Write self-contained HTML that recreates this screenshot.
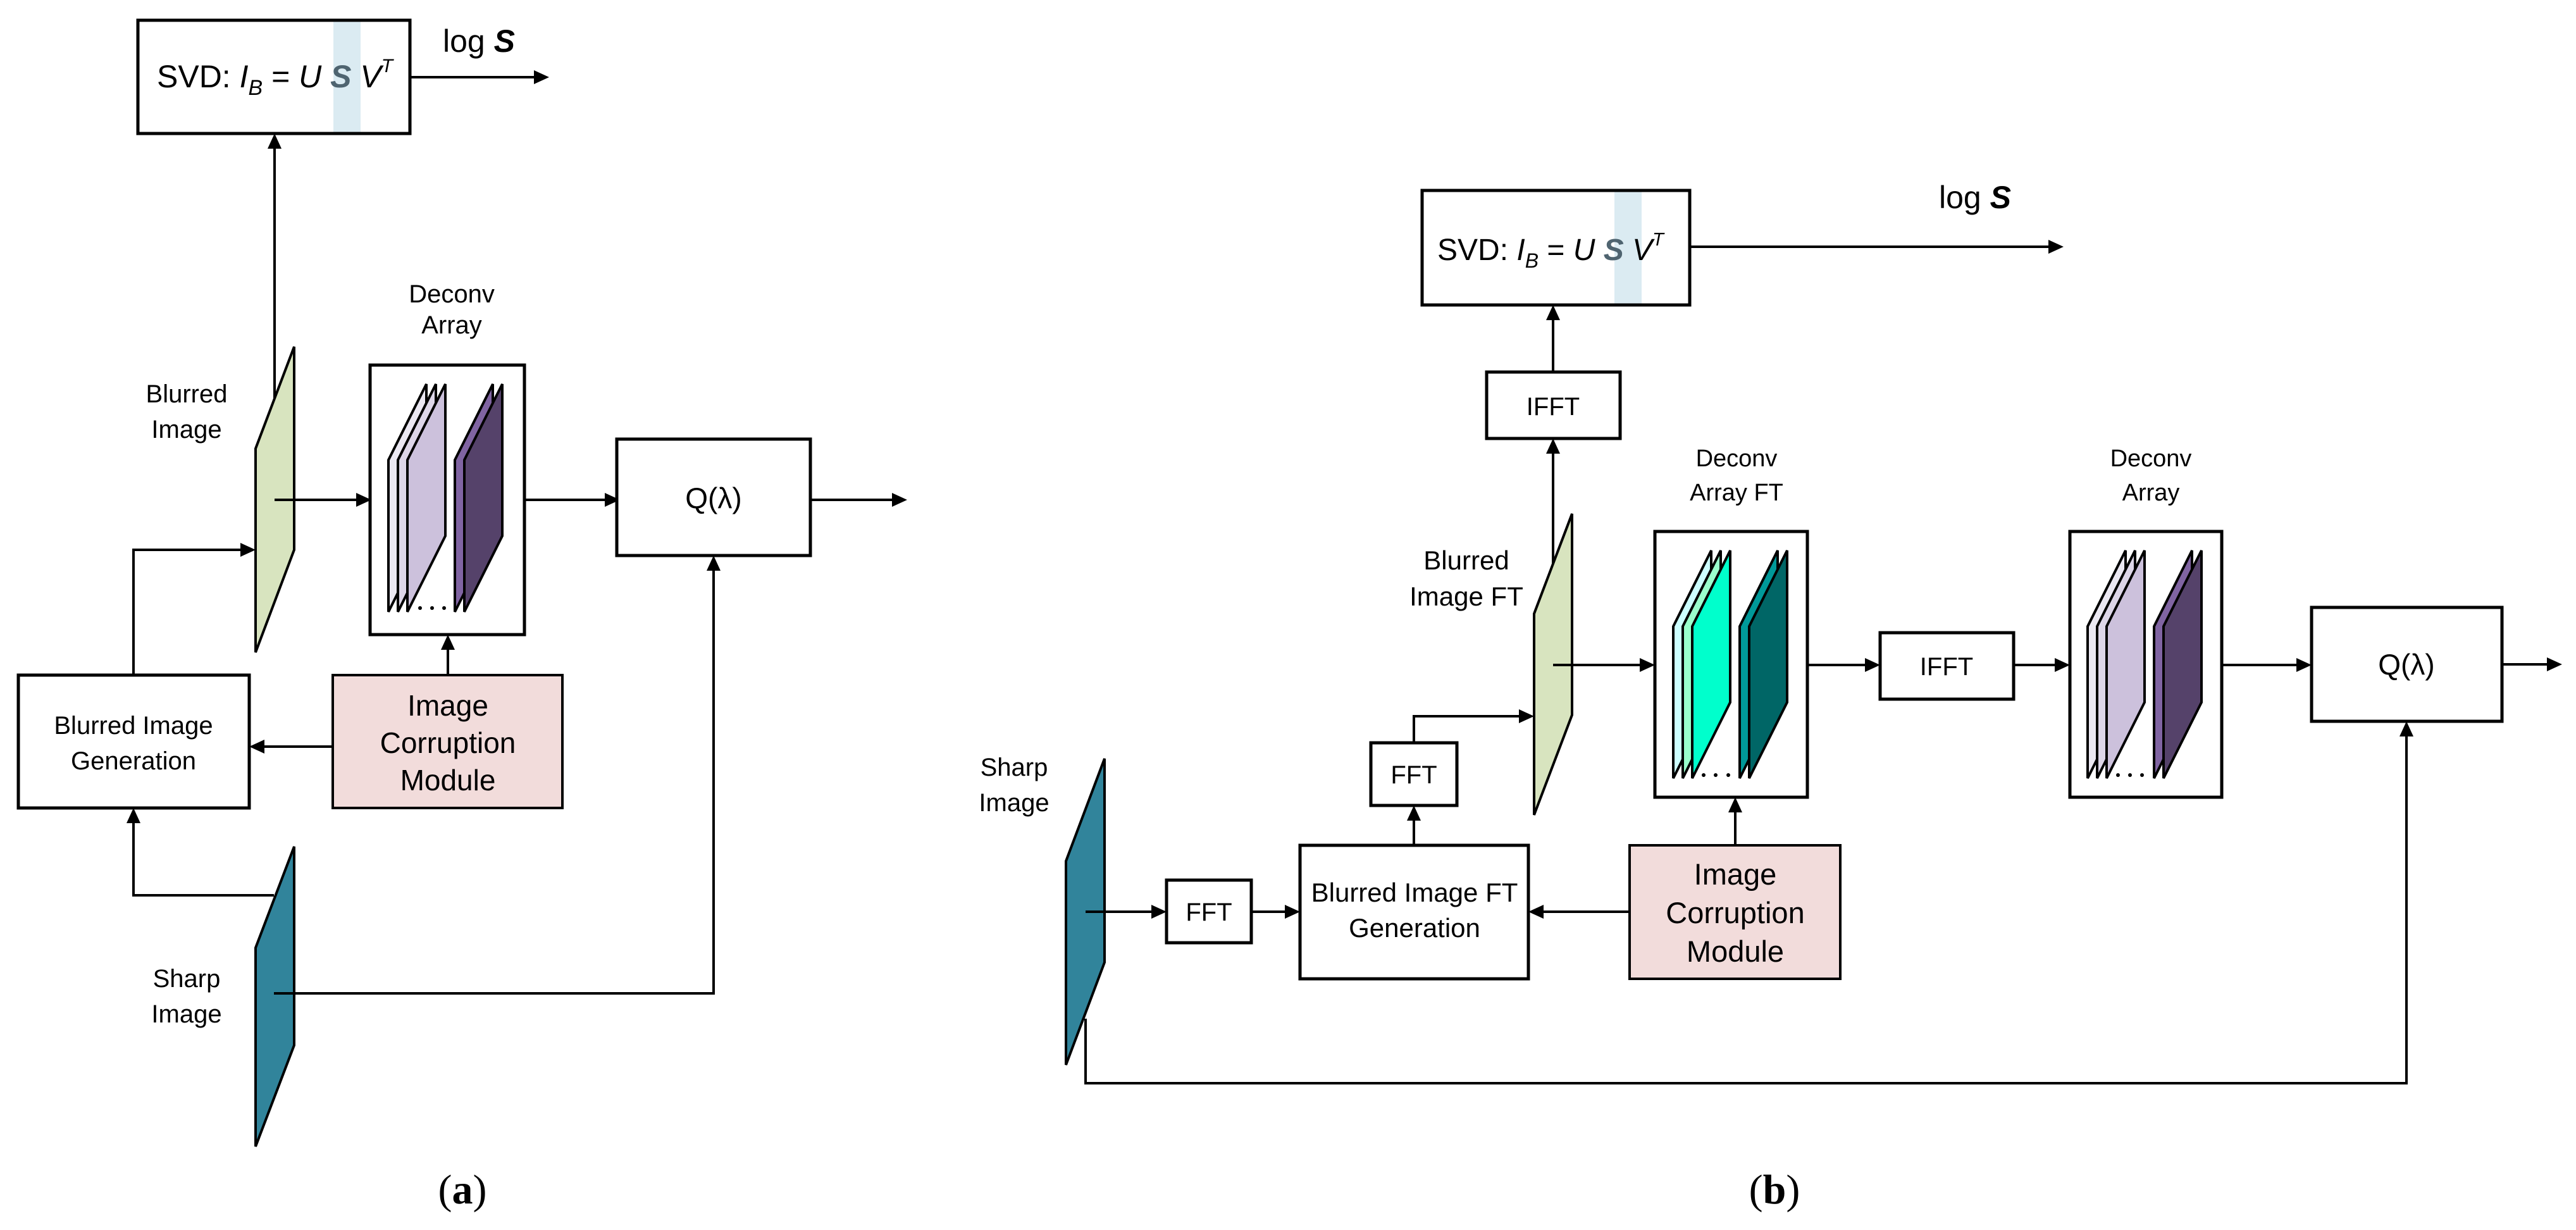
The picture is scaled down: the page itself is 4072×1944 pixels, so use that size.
<!DOCTYPE html>
<html><head><meta charset="utf-8"><style>
html,body{margin:0;padding:0;background:#fff;}
svg{display:block;}
text{font-family:"Liberation Sans",sans-serif;fill:#000;}
</style></head><body>
<svg width="4072" height="1944" viewBox="0 0 4072 1944" xmlns="http://www.w3.org/2000/svg">
<style>
.ln{stroke:#000;stroke-width:4;fill:none;}
.bx{stroke:#000;stroke-width:5;fill:#fff;}
.ah{fill:#000;}
</style>

<!-- ================= PANEL A ================= -->
<rect x="218" y="32" width="430" height="179" class="bx"/>
<rect x="527" y="30" width="43" height="183" fill="#dbebf2"/>
<rect x="218" y="32" width="430" height="179" fill="none" stroke="#000" stroke-width="5"/>
<text x="248" y="138" font-size="50">SVD: <tspan font-style="italic">I</tspan><tspan font-style="italic" font-size="34" dy="12">B</tspan><tspan dy="-12"> = </tspan><tspan font-style="italic">U </tspan><tspan font-style="italic" font-weight="bold" fill="#4f6470">S</tspan><tspan font-style="italic"> V</tspan><tspan font-style="italic" font-size="30" dy="-24">T</tspan></text>
<text x="700" y="82" font-size="50">log <tspan font-weight="bold" font-style="italic">S</tspan></text>
<line x1="648" y1="122" x2="845" y2="122" class="ln"/>
<polygon points="868,122 844,111 844,133" class="ah"/>

<line x1="434" y1="640" x2="434" y2="234" class="ln"/>
<polygon points="434,211 423,235 445,235" class="ah"/>

<polygon points="404,709 465,548 465,869 404,1031" fill="#d8e4bf" stroke="#000" stroke-width="4"/>
<text x="295" y="636" font-size="40" text-anchor="middle">Blurred</text>
<text x="295" y="692" font-size="40" text-anchor="middle">Image</text>

<line x1="434" y1="790" x2="565" y2="790" class="ln"/>
<polygon points="587,790 563,779 563,801" class="ah"/>

<text x="714" y="478" font-size="40" text-anchor="middle">Deconv</text>
<text x="714" y="527" font-size="40" text-anchor="middle">Array</text>
<rect x="585" y="577" width="244" height="426" class="bx"/>
<g stroke="#000" stroke-width="4">
<polygon points="614,727 674,607 674,847 614,967" fill="#ebe8f2"/>
<polygon points="629,727 689,607 689,847 629,967" fill="#ddd6e8"/>
<polygon points="644,727 704,607 704,847 644,967" fill="#ccc1dc"/>
<polygon points="719,727 779,607 779,847 719,967" fill="#8064a2"/>
<polygon points="734,727 794,607 794,847 734,967" fill="#55426a"/>
</g>
<circle cx="664" cy="961" r="3"/><circle cx="683" cy="961" r="3"/><circle cx="702" cy="961" r="3"/>

<line x1="829" y1="790" x2="958" y2="790" class="ln"/>
<polygon points="980,790 956,779 956,801" class="ah"/>
<rect x="975" y="694" width="306" height="184" class="bx"/>
<text x="1128" y="803" font-size="46" text-anchor="middle">Q(λ)</text>
<line x1="1281" y1="790" x2="1411" y2="790" class="ln"/>
<polygon points="1434,790 1410,779 1410,801" class="ah"/>

<rect x="29" y="1067" width="365" height="210" class="bx"/>
<text x="211" y="1160" font-size="40" text-anchor="middle">Blurred Image</text>
<text x="211" y="1216" font-size="40" text-anchor="middle">Generation</text>
<polyline points="211,1067 211,869 382,869" class="ln"/>
<polygon points="404,869 380,858 380,880" class="ah"/>

<rect x="526" y="1067" width="363" height="210" fill="#f2dcdb" stroke="#000" stroke-width="4"/>
<text x="708" y="1131" font-size="46" text-anchor="middle">Image</text>
<text x="708" y="1190" font-size="46" text-anchor="middle">Corruption</text>
<text x="708" y="1249" font-size="46" text-anchor="middle">Module</text>
<line x1="708" y1="1067" x2="708" y2="1025" class="ln"/>
<polygon points="708,1003 697,1027 719,1027" class="ah"/>
<line x1="526" y1="1180" x2="416" y2="1180" class="ln"/>
<polygon points="394,1180 418,1169 418,1191" class="ah"/>

<polyline points="433,1415 211,1415 211,1299" class="ln"/>
<polygon points="211,1277 200,1301 222,1301" class="ah"/>
<polygon points="404,1498 465,1338 465,1652 404,1812" fill="#31849b" stroke="#000" stroke-width="4"/>
<text x="295" y="1560" font-size="40" text-anchor="middle">Sharp</text>
<text x="295" y="1616" font-size="40" text-anchor="middle">Image</text>
<polyline points="433,1570 1128,1570 1128,900" class="ln"/>
<polygon points="1128,878 1117,902 1139,902" class="ah"/>

<text x="731" y="1902" font-size="66" text-anchor="middle" style="font-family:'Liberation Serif',serif">(<tspan font-weight="bold">a</tspan>)</text>

<!-- ================= PANEL B ================= -->
<rect x="2248" y="301" width="423" height="181" class="bx"/>
<rect x="2552" y="299" width="43" height="185" fill="#dbebf2"/>
<rect x="2248" y="301" width="423" height="181" fill="none" stroke="#000" stroke-width="5"/>
<text x="2272" y="411" font-size="48">SVD: <tspan font-style="italic">I</tspan><tspan font-style="italic" font-size="32" dy="12">B</tspan><tspan dy="-12"> = </tspan><tspan font-style="italic">U </tspan><tspan font-style="italic" font-weight="bold" fill="#4f6470">S</tspan><tspan font-style="italic"> V</tspan><tspan font-style="italic" font-size="29" dy="-23">T</tspan></text>
<text x="3065" y="329" font-size="50">log <tspan font-weight="bold" font-style="italic">S</tspan></text>
<line x1="2671" y1="390" x2="3240" y2="390" class="ln"/>
<polygon points="3262,390 3238,379 3238,401" class="ah"/>

<rect x="2350" y="588" width="211" height="105" class="bx"/>
<text x="2455" y="656" font-size="40" text-anchor="middle">IFFT</text>
<line x1="2455" y1="588" x2="2455" y2="504" class="ln"/>
<polygon points="2455,482 2444,506 2466,506" class="ah"/>
<line x1="2455" y1="900" x2="2455" y2="715" class="ln"/>
<polygon points="2455,693 2444,717 2466,717" class="ah"/>

<polygon points="2425,970 2485,812 2485,1130 2425,1288" fill="#d8e4bf" stroke="#000" stroke-width="4"/>
<text x="2318" y="900" font-size="42" text-anchor="middle">Blurred</text>
<text x="2318" y="957" font-size="42" text-anchor="middle">Image FT</text>
<line x1="2455" y1="1051" x2="2594" y2="1051" class="ln"/>
<polygon points="2616,1051 2592,1040 2592,1062" class="ah"/>

<text x="2745" y="737" font-size="38" text-anchor="middle">Deconv</text>
<text x="2745" y="791" font-size="38" text-anchor="middle">Array FT</text>
<rect x="2616" y="840" width="241" height="420" class="bx"/>
<g stroke="#000" stroke-width="4">
<polygon points="2645,990 2705,870 2705,1110 2645,1230" fill="#ccffff"/>
<polygon points="2660,990 2720,870 2720,1110 2660,1230" fill="#99ffcc"/>
<polygon points="2675,990 2735,870 2735,1110 2675,1230" fill="#00ffcc"/>
<polygon points="2750,990 2810,870 2810,1110 2750,1230" fill="#009999"/>
<polygon points="2765,990 2825,870 2825,1110 2765,1230" fill="#006666"/>
</g>
<circle cx="2693" cy="1225" r="3"/><circle cx="2712" cy="1225" r="3"/><circle cx="2732" cy="1225" r="3"/>

<line x1="2857" y1="1051" x2="2950" y2="1051" class="ln"/>
<polygon points="2972,1051 2948,1040 2948,1062" class="ah"/>
<rect x="2972" y="1000" width="211" height="105" class="bx"/>
<text x="3077" y="1067" font-size="40" text-anchor="middle">IFFT</text>
<line x1="3183" y1="1051" x2="3250" y2="1051" class="ln"/>
<polygon points="3272,1051 3248,1040 3248,1062" class="ah"/>

<text x="3400" y="737" font-size="38" text-anchor="middle">Deconv</text>
<text x="3400" y="791" font-size="38" text-anchor="middle">Array</text>
<rect x="3272" y="840" width="240" height="420" class="bx"/>
<g stroke="#000" stroke-width="4">
<polygon points="3300,990 3360,870 3360,1110 3300,1230" fill="#ebe8f2"/>
<polygon points="3315,990 3375,870 3375,1110 3315,1230" fill="#ddd6e8"/>
<polygon points="3330,990 3390,870 3390,1110 3330,1230" fill="#ccc1dc"/>
<polygon points="3405,990 3465,870 3465,1110 3405,1230" fill="#8064a2"/>
<polygon points="3420,990 3480,870 3480,1110 3420,1230" fill="#55426a"/>
</g>
<circle cx="3348" cy="1225" r="3"/><circle cx="3367" cy="1225" r="3"/><circle cx="3386" cy="1225" r="3"/>

<line x1="3512" y1="1051" x2="3632" y2="1051" class="ln"/>
<polygon points="3654,1051 3630,1040 3630,1062" class="ah"/>
<rect x="3654" y="960" width="301" height="180" class="bx"/>
<text x="3804" y="1066" font-size="46" text-anchor="middle">Q(λ)</text>
<line x1="3955" y1="1050" x2="4028" y2="1050" class="ln"/>
<polygon points="4050,1050 4026,1039 4026,1061" class="ah"/>

<rect x="2167" y="1174" width="136" height="99" class="bx"/>
<text x="2235" y="1238" font-size="40" text-anchor="middle">FFT</text>
<polyline points="2235,1174 2235,1132 2403,1132" class="ln"/>
<polygon points="2425,1132 2401,1121 2401,1143" class="ah"/>
<line x1="2235" y1="1336" x2="2235" y2="1295" class="ln"/>
<polygon points="2235,1273 2224,1297 2246,1297" class="ah"/>

<rect x="2055" y="1336" width="361" height="211" class="bx"/>
<text x="2236" y="1425" font-size="42" text-anchor="middle">Blurred Image FT</text>
<text x="2236" y="1481" font-size="42" text-anchor="middle">Generation</text>

<rect x="2576" y="1336" width="333" height="211" fill="#f2dcdb" stroke="#000" stroke-width="4"/>
<text x="2743" y="1398" font-size="47" text-anchor="middle">Image</text>
<text x="2743" y="1459" font-size="47" text-anchor="middle">Corruption</text>
<text x="2743" y="1520" font-size="47" text-anchor="middle">Module</text>
<line x1="2743" y1="1336" x2="2743" y2="1282" class="ln"/>
<polygon points="2743,1260 2732,1284 2754,1284" class="ah"/>
<line x1="2576" y1="1441" x2="2438" y2="1441" class="ln"/>
<polygon points="2416,1441 2440,1430 2440,1452" class="ah"/>

<rect x="1844" y="1391" width="134" height="99" class="bx"/>
<text x="1911" y="1455" font-size="40" text-anchor="middle">FFT</text>
<line x1="1978" y1="1441" x2="2033" y2="1441" class="ln"/>
<polygon points="2055,1441 2031,1430 2031,1452" class="ah"/>

<polygon points="1685,1361 1746,1199 1746,1521 1685,1683" fill="#31849b" stroke="#000" stroke-width="4"/>
<text x="1603" y="1226" font-size="40" text-anchor="middle">Sharp</text>
<text x="1603" y="1282" font-size="40" text-anchor="middle">Image</text>
<line x1="1716" y1="1441" x2="1822" y2="1441" class="ln"/>
<polygon points="1844,1441 1820,1430 1820,1452" class="ah"/>
<polyline points="1716,1610 1716,1712 3804,1712 3804,1162" class="ln"/>
<polygon points="3804,1140 3793,1164 3815,1164" class="ah"/>

<text x="2805" y="1902" font-size="66" text-anchor="middle" style="font-family:'Liberation Serif',serif">(<tspan font-weight="bold">b</tspan>)</text>
</svg>
</body></html>
